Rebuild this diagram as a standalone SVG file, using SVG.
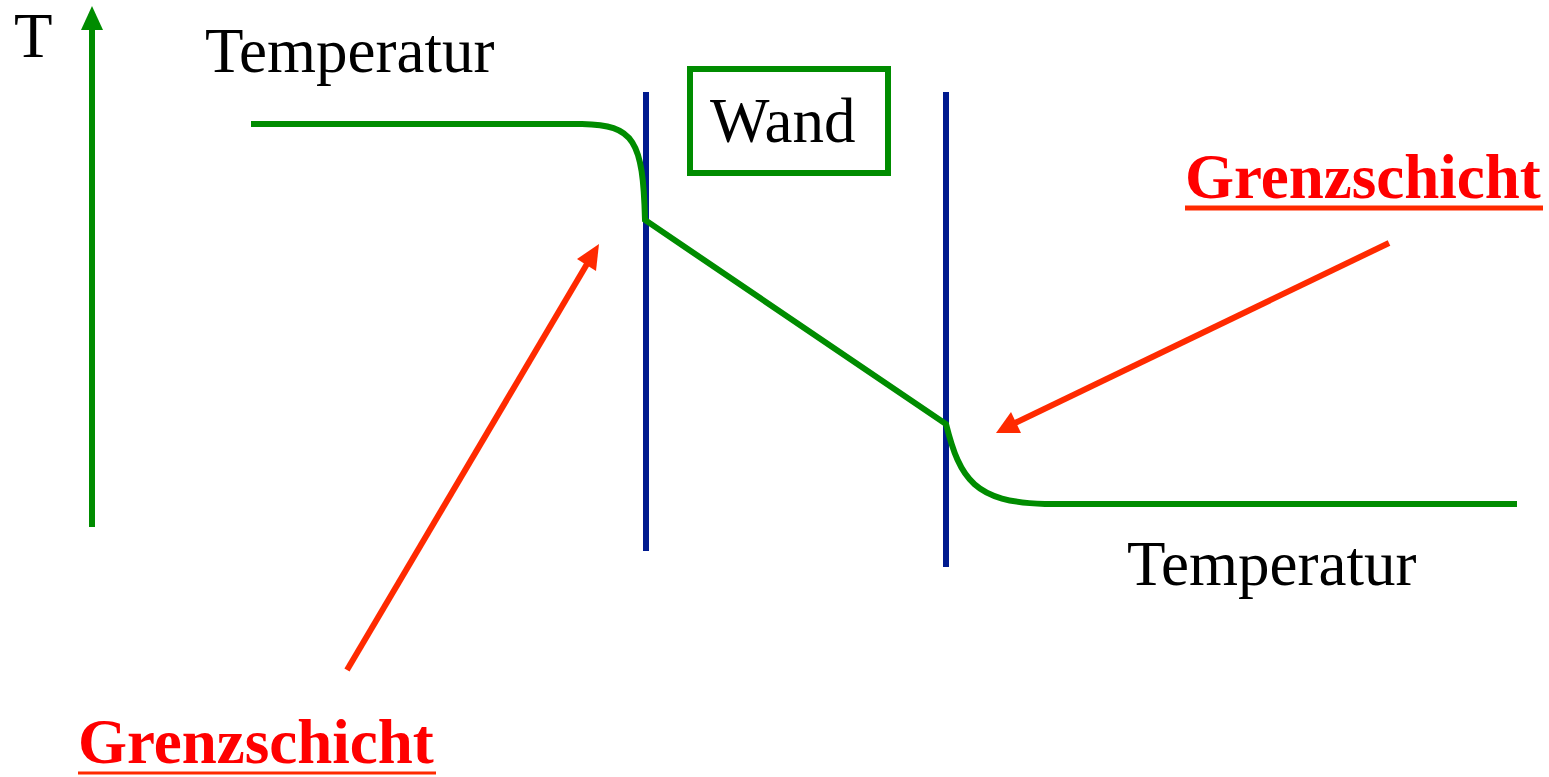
<svg xmlns="http://www.w3.org/2000/svg" width="1549" height="777" viewBox="0 0 1549 777">
<defs>
<style>
.lbl{font-family:"Liberation Serif","Times New Roman",serif;font-size:63px;fill:#000}
.red{font-family:"Liberation Serif","Times New Roman",serif;font-size:63px;font-weight:bold;fill:#FF0000}
.grn{fill:none;stroke:#008C00;stroke-width:6}
.blu{stroke:#001A8F;stroke-width:6}
.rarr{stroke:#FF2A00;stroke-width:6;fill:none}
</style>
</defs>
<rect width="1549" height="777" fill="#fff"/>
<g id="axis">
<line x1="92" y1="527" x2="92" y2="28" class="grn"/>
<polygon points="92,6 81,30 103,30" fill="#008C00"/>
<text x="14" y="57" class="lbl">T</text>
</g>
<g id="temp-left"><text x="205" y="72" class="lbl">Temperatur</text></g>
<g id="temp-right"><text x="1127" y="585" class="lbl">Temperatur</text></g>
<g id="wand">
<rect x="690" y="69" width="198" height="104" fill="none" stroke="#008C00" stroke-width="6"/>
<text x="710" y="142" class="lbl">Wand</text>
</g>
<g id="walls">
<line x1="646" y1="92" x2="646" y2="551" class="blu"/>
<line x1="946" y1="92" x2="946" y2="567" class="blu"/>
</g>
<g id="profile">
<path class="grn" d="M251,124 L582,124 C634,125 643,140 645,220 L946,424 C960,480 975,502 1045,504 L1517,504"/>
</g>
<g id="grenz-right">
<text x="1185" y="198" class="red">Grenzschicht</text>
<line x1="1185" y1="208" x2="1543" y2="208" stroke="#FF2A00" stroke-width="5"/>
</g>
<g id="grenz-left">
<text x="78" y="763" class="red">Grenzschicht</text>
<line x1="78" y1="773" x2="436" y2="773" stroke="#FF2A00" stroke-width="3"/>
</g>
<g id="connectors">
<line x1="347" y1="670" x2="587" y2="264" class="rarr"/>
<polygon points="599,244 577,259 596,271" fill="#FF2A00"/>
<line x1="1389" y1="243" x2="1015" y2="423" class="rarr"/>
<polygon points="996,433 1011,412 1021,433" fill="#FF2A00"/>
</g>
</svg>
